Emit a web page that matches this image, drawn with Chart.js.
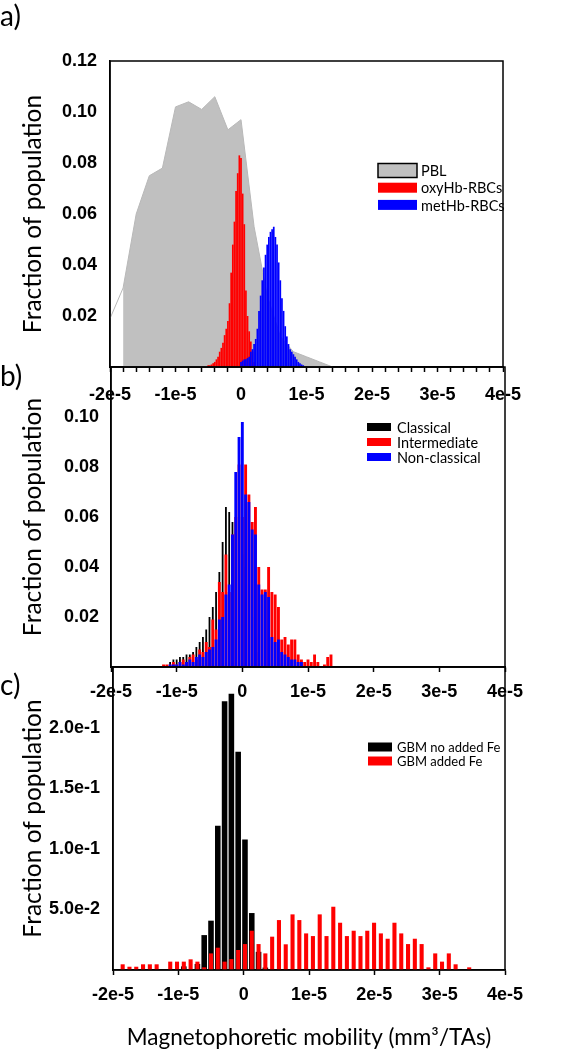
<!DOCTYPE html>
<html>
<head>
<meta charset="utf-8">
<script src="https://cdn.jsdelivr.net/npm/chart.js@4.4.1/dist/chart.umd.min.js"></script>
<style>
  body { margin: 0; background: #fff; }
  #wrap { position: relative; width: 578px; height: 1050px; background: #fff; }
  #wrap canvas { position: absolute; left: 0; top: 0; }
</style>
</head>
<body>
<div id="wrap">
  <canvas id="chartA" width="578" height="1050"></canvas>
  <canvas id="chartB" width="578" height="1050"></canvas>
  <canvas id="chartC" width="578" height="1050"></canvas>
</div>
<script>
// mobility values are in units of 1e-5 mm3/TAs

// panel a
const pblX = [-2.0, -1.8, -1.6, -1.4, -1.2, -1.0, -0.8, -0.6, -0.4, -0.2, 0.0, 0.2, 0.4, 0.6, 0.8, 1.0, 1.2, 1.4];
const pblY = [0.019, 0.031, 0.060, 0.075, 0.078, 0.102, 0.104, 0.101, 0.106, 0.093, 0.097, 0.055, 0.028, 0.012, 0.006, 0.004, 0.002, 0.000];

const oxyX = [-0.500, -0.475, -0.450, -0.425, -0.400, -0.375, -0.350, -0.325, -0.300, -0.275, -0.250, -0.225, -0.200, -0.175,
  -0.150, -0.125, -0.100, -0.075, -0.050, -0.025, 0.000, 0.025, 0.050, 0.075, 0.100, 0.125, 0.150, 0.175, 0.200];
const oxyY = [0.0007, 0.0007, 0.0010, 0.0015, 0.0020, 0.0030, 0.0040, 0.0060, 0.0075, 0.0095, 0.0125, 0.0150, 0.0180, 0.0250,
  0.0370, 0.0480, 0.0570, 0.0690, 0.0760, 0.0830, 0.0820, 0.0680, 0.0560, 0.0300, 0.0200, 0.0140, 0.0100, 0.0060, 0.0020];

const metX = [0.000, 0.025, 0.050, 0.075, 0.100, 0.125, 0.150, 0.175, 0.200, 0.225, 0.250, 0.275, 0.300, 0.325, 0.350, 0.375,
  0.400, 0.425, 0.450, 0.475, 0.500, 0.525, 0.550, 0.575, 0.600, 0.625, 0.650, 0.675, 0.700, 0.725, 0.750, 0.775,
  0.800, 0.825, 0.850, 0.875, 0.900, 0.925, 0.950];
const metY = [0.0020, 0.0025, 0.0030, 0.0030, 0.0035, 0.0040, 0.0060, 0.0070, 0.0090, 0.0110, 0.0150, 0.0220, 0.0280, 0.0340, 0.0390, 0.0440,
  0.0480, 0.0510, 0.0530, 0.0540, 0.0550, 0.0510, 0.0480, 0.0410, 0.0340, 0.0270, 0.0220, 0.0160, 0.0120, 0.0090, 0.0070, 0.0060,
  0.0050, 0.0040, 0.0030, 0.0020, 0.0015, 0.0010, 0.0007];

// panel b
const classicalX = [-1.10, -1.05, -1.00, -0.95, -0.90, -0.85, -0.80, -0.75, -0.70, -0.65, -0.60, -0.55, -0.50, -0.45,
  -0.40, -0.35, -0.30, -0.25, -0.20, -0.15, -0.10, -0.05, 0.00, 0.05, 0.10, 0.15, 0.20, 0.25];
const classicalY = [0.002, 0.003, 0.003, 0.004, 0.004, 0.005, 0.005, 0.006, 0.008, 0.010, 0.012, 0.015, 0.020, 0.024,
  0.030, 0.038, 0.050, 0.064, 0.062, 0.058, 0.058, 0.050, 0.045, 0.040, 0.030, 0.020, 0.012, 0.006];

const intermediateX = [-1.20, -1.15, -1.10, -1.05, -1.00, -0.95, -0.90, -0.85, -0.80, -0.75, -0.70, -0.65, -0.60, -0.55,
  -0.50, -0.45, -0.40, -0.35, -0.30, -0.25, -0.20, -0.15, -0.10, -0.05, 0.00, 0.05, 0.10, 0.15, 0.20, 0.25, 0.30, 0.35,
  0.40, 0.45, 0.50, 0.55, 0.60, 0.65, 0.70, 0.75, 0.80, 0.85, 0.90, 0.95, 1.00, 1.05, 1.10, 1.15, 1.20, 1.25, 1.30, 1.35];
const intermediateY = [0.001, 0.001, 0.001, 0.002, 0.001, 0.002, 0.003, 0.002, 0.004, 0.005, 0.003, 0.007, 0.006, 0.010,
  0.008, 0.019, 0.015, 0.034, 0.030, 0.045, 0.030, 0.053, 0.060, 0.081, 0.060, 0.081, 0.069, 0.058, 0.064, 0.040, 0.031, 0.031,
  0.040, 0.030, 0.029, 0.024, 0.011, 0.012, 0.009, 0.011, 0.011, 0.005, 0.003, 0.002, 0.003, 0.002, 0.005, 0.002, 0.000, 0.001, 0.004, 0.005];

const nonClassicalX = [-1.10, -1.05, -1.00, -0.95, -0.90, -0.85, -0.80, -0.75, -0.70, -0.65, -0.60, -0.55, -0.50, -0.45,
  -0.40, -0.35, -0.30, -0.25, -0.20, -0.15, -0.10, -0.05, 0.00, 0.05, 0.10, 0.15, 0.20, 0.25, 0.30, 0.35,
  0.40, 0.45, 0.50, 0.55, 0.60, 0.65, 0.70, 0.75, 0.80, 0.85, 0.90];
const nonClassicalY = [0.001, 0.001, 0.001, 0.002, 0.001, 0.002, 0.003, 0.002, 0.004, 0.005, 0.004, 0.006, 0.007, 0.008,
  0.011, 0.019, 0.020, 0.029, 0.033, 0.053, 0.078, 0.092, 0.098, 0.069, 0.066, 0.055, 0.053, 0.033, 0.029, 0.030,
  0.028, 0.012, 0.010, 0.011, 0.006, 0.005, 0.004, 0.003, 0.003, 0.002, 0.002];

// panel c
const gbmX = [-1.852, -1.748, -1.644, -1.540, -1.436, -1.332, -1.228, -1.124, -1.020, -0.916, -0.812, -0.708, -0.604,
  -0.500, -0.396, -0.292, -0.188, -0.084, 0.020, 0.124, 0.228, 0.332, 0.436, 0.540, 0.644, 0.748, 0.852, 0.956,
  1.060, 1.164, 1.268, 1.372, 1.476, 1.580, 1.684, 1.788, 1.892, 1.996, 2.100, 2.204, 2.308, 2.412, 2.516, 2.620,
  2.724, 2.828, 2.932, 3.036, 3.140, 3.244, 3.348, 3.452];
const gbmFeY = [0.0047, 0.0027, 0.0027, 0.0047, 0.0047, 0.0047, 0.0000, 0.0069, 0.0069, 0.0069, 0.0088, 0.0069, 0.0022,
  0.0137, 0.0184, 0.0069, 0.0090, 0.0165, 0.0214, 0.0324, 0.0214, 0.0137, 0.0275, 0.0412, 0.0212, 0.0459, 0.0412, 0.0302,
  0.0280, 0.0459, 0.0280, 0.0522, 0.0390, 0.0280, 0.0324, 0.0280, 0.0324, 0.0390, 0.0302, 0.0258, 0.0390, 0.0302, 0.0214, 0.0258,
  0.0214, 0.0022, 0.0137, 0.0069, 0.0137, 0.0047, 0.0000, 0.0022];
const gbmNoFeX = [-0.916, -0.812, -0.708, -0.604, -0.500, -0.396, -0.292, -0.188, -0.084, 0.020, 0.124, 0.228, 0.332];
const gbmNoFeY = [0.003, 0.000, 0.005, 0.0288, 0.0407, 0.119, 0.2217, 0.228, 0.180, 0.1077, 0.047, 0.015, 0.002];

Chart.defaults.font.family = "'Liberation Sans', Arial, sans-serif";
Chart.defaults.color = '#000';
Chart.defaults.animation = false;
Chart.defaults.plugins.legend.display = false;
Chart.defaults.plugins.tooltip.enabled = false;

const toPts = (xs, ys) => xs.map((x, i) => ({ x: x, y: ys[i] }));

// frame, panel letter and in-plot legend
const panelDecor = {
  id: 'panelDecor',
  afterDraw(chart, args, o) {
    const { ctx, chartArea: a } = chart;
    ctx.save();
    ctx.strokeStyle = '#000';
    ctx.lineWidth = 1.5;
    ctx.strokeRect(a.left, a.top, a.right - a.left, a.bottom - a.top);

    ctx.fillStyle = '#000';
    ctx.textAlign = 'left';
    ctx.textBaseline = 'middle';
    ctx.font = '28px Lato';
    ctx.fillText(o.letter, 0, o.letterY);

    const lg = o.legend;
    ctx.font = lg.size + 'px Lato';
    let row = 0;
    chart.data.datasets.forEach(ds => {
      if (!ds.label) return;
      const cy = lg.y + row * lg.dy;
      const h = ds.legendOutline ? lg.h + 4 : lg.h;
      ctx.fillStyle = ds.backgroundColor;
      ctx.fillRect(lg.x, cy - h / 2, lg.w, h);
      if (ds.legendOutline) {
        ctx.lineWidth = 1.5;
        ctx.strokeStyle = '#000';
        ctx.strokeRect(lg.x, cy - h / 2, lg.w, h);
      }
      ctx.fillStyle = '#000';
      ctx.fillText(ds.label, lg.tx, cy + 1);
      row++;
    });
    ctx.restore();
  }
};

const expLabel = v => {
  const r = Math.round(v * 10) / 10;
  if (Math.abs(r - Math.round(r)) > 1e-9) return '';
  return Math.round(r) === 0 ? '0' : Math.round(r) + 'e-5';
};

function xAxis(step, height, pad, title) {
  return {
    type: 'linear', min: -2, max: 4, offset: false,
    afterFit: s => { s.height = height; },
    ticks: { stepSize: step, autoSkip: false, maxRotation: 0, padding: pad,
      font: { size: 18, weight: 'bold' }, callback: expLabel },
    grid: { display: true, drawOnChartArea: false, drawTicks: true, tickLength: 5,
      tickColor: '#000', tickWidth: 1.5, offset: false },
    border: { display: true, color: '#000', width: 1.5 },
    title: title ? { display: true, text: title, font: { family: 'Lato', size: 22.5, lineHeight: 1 },
      padding: { top: 0, bottom: 1 } } : { display: false }
  };
}

function yAxis(max, step, width, pad, fmt) {
  return {
    type: 'linear', min: 0, max: max,
    afterFit: s => { s.width = width; },
    ticks: { stepSize: step, padding: pad, font: { size: 18, weight: 'bold' }, callback: fmt },
    grid: { display: false, drawTicks: false },
    border: { display: true, color: '#000', width: 1.5 },
    title: { display: true, text: 'Fraction of population',
      font: { family: 'Lato', size: 24.5, lineHeight: 1.2 }, padding: { top: 18, bottom: 0 } }
  };
}

new Chart(document.getElementById('chartA'), {
  type: 'bar',
  data: {
    datasets: [
      // the first PBL segment is a bare line, the rest is a filled area
      { type: 'line', label: 'PBL', data: toPts(pblX, pblY), backgroundColor: '#c0c0c0',
        borderColor: '#b8b8b8', borderWidth: 1, fill: 'origin', pointRadius: 0, tension: 0, order: 3,
        legendOutline: true,
        segment: { backgroundColor: c => c.p0DataIndex === 0 ? 'rgba(255,255,255,0)' : undefined } },
      { label: 'oxyHb-RBCs', data: toPts(oxyX, oxyY), backgroundColor: '#ff0000', grouped: false,
        barPercentage: 1.05, categoryPercentage: 1, order: 1 },
      { label: 'metHb-RBCs', data: toPts(metX, metY), backgroundColor: '#0000ff', grouped: false,
        barPercentage: 1.05, categoryPercentage: 1, order: 0 }
    ]
  },
  options: {
    responsive: false,
    layout: { padding: { left: 0, top: 61, right: 75, bottom: 1050 - 367 - 40 } },
    scales: {
      x: xAxis(0.2, 40, 12),
      y: yAxis(0.12, 0.02, 110, 13, v => v < 0.001 ? '' : v.toFixed(2))
    },
    plugins: {
      panelDecor: { letter: 'a)', letterY: 17,
        legend: { x: 378, y: 170.5, dy: 17.2, w: 39, h: 10, tx: 421, size: 14.5 } }
    }
  },
  plugins: [panelDecor]
});

new Chart(document.getElementById('chartB'), {
  type: 'bar',
  data: {
    datasets: [
      { label: 'Classical', data: toPts(classicalX, classicalY), backgroundColor: '#000000', grouped: false,
        barPercentage: 0.55, categoryPercentage: 1, order: 2 },
      { label: 'Intermediate', data: toPts(intermediateX, intermediateY), backgroundColor: '#ff0000', grouped: false,
        barPercentage: 0.88, categoryPercentage: 1, order: 1 },
      { label: 'Non-classical', data: toPts(nonClassicalX, nonClassicalY), backgroundColor: '#0000ff', grouped: false,
        barPercentage: 0.88, categoryPercentage: 1, order: 0 }
    ]
  },
  options: {
    responsive: false,
    layout: { padding: { left: 0, top: 367, right: 73, bottom: 1050 - 667 - 40 } },
    scales: {
      x: xAxis(1, 40, 9),
      y: yAxis(0.12, 0.02, 111, 12, v => (v < 0.001 || v > 0.119) ? '' : v.toFixed(2))
    },
    plugins: {
      panelDecor: { letter: 'b)', letterY: 377,
        legend: { x: 367, y: 427, dy: 15, w: 24, h: 8, tx: 397, size: 14.5 } }
    }
  },
  plugins: [panelDecor]
});

new Chart(document.getElementById('chartC'), {
  type: 'bar',
  data: {
    datasets: [
      { label: 'GBM no added Fe', data: toPts(gbmNoFeX, gbmNoFeY), backgroundColor: '#000000', grouped: false,
        barPercentage: 0.82, categoryPercentage: 1, order: 1 },
      { label: 'GBM added Fe', data: toPts(gbmX, gbmFeY), backgroundColor: '#ff0000', grouped: false,
        barPercentage: 0.6, categoryPercentage: 1, order: 0 }
    ]
  },
  options: {
    responsive: false,
    layout: { padding: { left: 0, top: 667, right: 73, bottom: 0 } },
    scales: {
      x: xAxis(1, 80, 9, 'Magnetophoretic mobility (mm\u00B3/TAs)'),
      y: yAxis(0.25, 0.05, 113, 13, v => (v < 0.001 || v > 0.249) ? '' : v.toExponential(1))
    },
    plugins: {
      panelDecor: { letter: 'c)', letterY: 686,
        legend: { x: 368, y: 747, dy: 14, w: 24, h: 9, tx: 397, size: 13 } }
    }
  },
  plugins: [panelDecor]
});
</script>
</body>
</html>
